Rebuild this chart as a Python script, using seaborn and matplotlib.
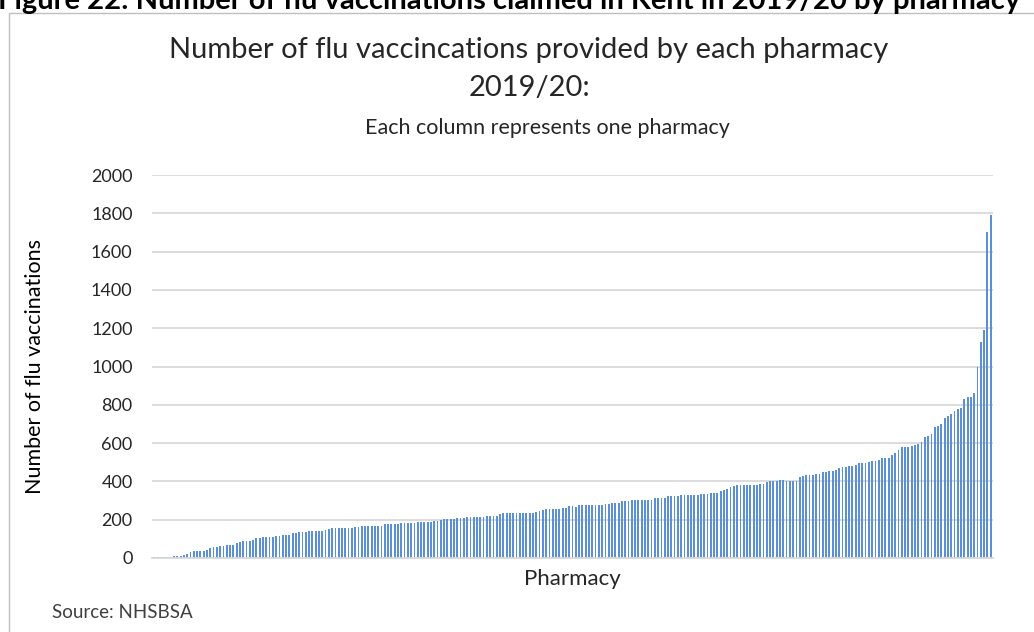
import matplotlib
matplotlib.use("Agg")
import matplotlib.pyplot as plt
import seaborn as sns
import pandas as pd
import numpy as np

# Flu vaccinations per pharmacy, sorted ascending (one bar per pharmacy)
seg_low = [3, 4, 5, 5, 6, 7, 8, 9, 9, 16, 23, 32, 35, 35, 35, 35, 44, 53, 57, 60,
           62, 62, 69, 69, 69, 76, 81, 88, 88, 88, 94, 102, 106, 108, 108, 108, 108,
           115, 115, 120, 120, 120, 129, 129, 134, 134, 134, 141, 141, 141, 141, 141,
           147, 150, 155, 155, 155, 155, 155, 155, 155, 161, 164]
seg_mid1 = [168] * 7 + [175] * 5 + [182] * 5 + [189] * 5 + [194] * 2 + [198] + \
           [203] * 4 + [208] * 3 + [214] * 6 + [221] * 4 + [228] + [235] * 10 + \
           [242, 245, 249] + [256] * 5 + [262] * 2 + [270] * 2
seg_mid2 = [268] + [275] * 8 + [282] * 2 + [289] * 3 + [296] * 3 + [303] * 7 + \
           [315] * 4 + [322] * 4 + [329] * 6 + [336] * 3 + [341] * 3 + \
           [350, 355, 362, 369, 376] + [381] * 7 + [388] * 2 + [395] + [402] * 3 + [407] * 2
seg_high = [403] * 4 + [421, 430] + [435] * 3 + [440] * 2 + [447, 450] + [454] * 2 + \
           [461, 468] + [475] * 2 + [480] * 2 + [487] + [494] * 3 + [499] + [506] * 2 + \
           [513] + [520] * 3 + [539, 548, 565] + [579] * 3 + [586, 591, 595, 605, 631,
           638, 647, 682, 690, 701, 730, 743, 753, 770, 777, 783, 830, 843, 843, 864,
           996, 1127, 1188, 1704, 1791]
vaccinations = seg_low + seg_mid1 + seg_mid2 + seg_high
pharmacy = list(range(len(vaccinations)))

y_ticks = [0, 200, 400, 600, 800, 1000, 1200, 1400, 1600, 1800, 2000]

df = pd.DataFrame({"pharmacy": pharmacy, "vaccinations": vaccinations})

sns.set_theme(style="white")
plt.rcParams["font.family"] = ["Lato", "DejaVu Sans"]

W, H = 1034, 632
fig = plt.figure(figsize=(W / 100, H / 100), dpi=100)
fig.patch.set_facecolor("white")

# Frame around the chart area
frame = plt.Rectangle((9 / W, -0.1), 1.2, 1 - 13 / H + 0.1, transform=fig.transFigure,
                      fill=False, edgecolor="#bfbfbf", linewidth=1.0)
fig.add_artist(frame)

# Document caption above the chart (runs past the page edge)
fig.text(-2 / W, 1 - 9 / H,
         "Figure 22: Number of flu vaccinations claimed in Kent in 2019/20 by pharmacy",
         fontsize=21, fontweight="bold", color="black", ha="left", va="baseline")

ax = fig.add_axes([152 / W, 1 - 558 / H, (993 - 152) / W, (558 - 175) / H])
sns.barplot(data=df, x="pharmacy", y="vaccinations", color="#5b8fd6",
            width=0.55, ax=ax, saturation=1, linewidth=0)

ax.set_ylim(0, 2000)
ax.set_xlim(-0.7, len(vaccinations) - 0.3)
ax.set_yticks(y_ticks)
ax.set_yticklabels([str(t) for t in y_ticks], fontsize=13)
ax.tick_params(axis="y", length=0, pad=14, colors="#262626")
ax.set_xticks([])
ax.yaxis.grid(True, color="#d9d9d9", linewidth=1.3)
ax.set_axisbelow(True)
for s in ["top", "right", "left"]:
    ax.spines[s].set_visible(False)
ax.spines["bottom"].set_color("#d9d9d9")
ax.spines["bottom"].set_linewidth(1.3)

ax.set_xlabel("Pharmacy", fontsize=16, color="#262626", labelpad=8)
ax.set_ylabel("Number of flu vaccinations", fontsize=15.5, color="black", labelpad=33)

fig.text(529 / W, 1 - 50 / H, "Number of flu vaccincations provided by each pharmacy",
         fontsize=21, ha="center", va="center", color="#262626")
fig.text(529 / W, 1 - 88 / H, "2019/20:", fontsize=21, ha="center", va="center",
         color="#262626")
fig.text(547 / W, 1 - 128 / H, "Each column represents one pharmacy", fontsize=15.5,
         ha="center", va="center", color="#262626")

fig.text(52 / W, 1 - 612 / H, "Source: NHSBSA", fontsize=13.5, ha="left", va="center",
         color="#404040")

fig.savefig("out.png", dpi=100, facecolor="white")
